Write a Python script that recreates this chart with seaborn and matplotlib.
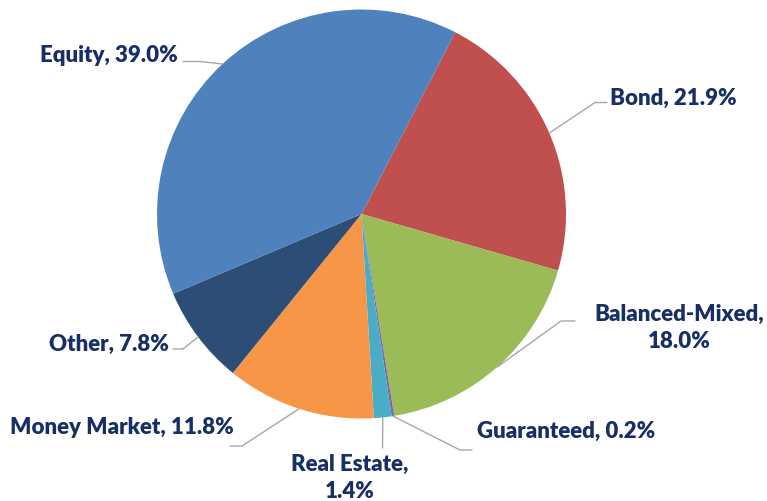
import matplotlib
matplotlib.use("Agg")
import matplotlib.pyplot as plt
import seaborn as sns
import numpy as np

# Fund allocation shares (%), clockwise from the top-right
categories = ["Bond", "Balanced-Mixed", "Guaranteed", "Real Estate",
              "Money Market", "Other", "Equity"]
shares = [21.9, 18.0, 0.2, 1.4, 11.8, 7.8, 39.0]
colors = ["#C0504D", "#9BBB59", "#8064A2", "#4BACC6",
          "#F79646", "#2C4D75", "#4F81BD"]

# label layout in pixels (767x501 canvas, y from top):
# text position, alignment, wrapped?, leader elbow, leader end
layout = {
    "Bond":           dict(xy=(610, 98),  ha="left",   wrap=False, elbow=(595, 102.5), end=(607, 102.5)),
    "Balanced-Mixed": dict(xy=(679, 328), ha="center", wrap=True,  elbow=(561, 321),   end=(575, 321)),
    "Guaranteed":     dict(xy=(477, 431), ha="left",   wrap=False, elbow=(460, 450),   end=(472, 450)),
    "Real Estate":    dict(xy=(350, 478), ha="center", wrap=True,  elbow=(382.5, 448), end=(382.5, 448)),
    "Money Market":   dict(xy=(234, 427), ha="right",  wrap=False, elbow=(242, 446),   end=(230, 446)),
    "Other":          dict(xy=(169, 344), ha="right",  wrap=False, elbow=(183, 349),   end=(173, 349)),
    "Equity":         dict(xy=(178, 55),  ha="right",  wrap=False, elbow=(200, 61.5),  end=(183, 61.5)),
}

W, H = 767, 501
CX, CY, R = 361.5, 214, 204.5


def px(p):
    return ((p[0] - CX) / R, (CY - p[1]) / R)


sns.set_theme(style="white")
plt.rcParams["font.family"] = ["Lato", "DejaVu Sans"]

fig = plt.figure(figsize=(W / 100, H / 100), dpi=100)
ax = fig.add_axes([0, 0, 1, 1])

wedges, _ = ax.pie(shares, colors=colors, startangle=62.7, counterclock=False,
                   radius=1, wedgeprops=dict(linewidth=0))

ax.set_xlim(-CX / R, (W - CX) / R)
ax.set_ylim(-(H - CY) / R, CY / R)
ax.set_aspect("equal")
ax.axis("off")

for w, cat, val in zip(wedges, categories, shares):
    lay = layout[cat]
    mid = np.deg2rad((w.theta1 + w.theta2) / 2)
    anchor = (np.cos(mid), np.sin(mid))
    e = px(lay["elbow"])
    t = px(lay["end"])
    ax.plot([anchor[0], e[0], t[0]], [anchor[1], e[1], t[1]],
            color="#A6A6A6", linewidth=1.0, zorder=3)
    sep = ",\n" if lay["wrap"] else ", "
    label = f"{cat}{sep}{val:.1f}%"
    tx, ty = px(lay["xy"])
    ax.text(tx, ty, label, ha=lay["ha"], va="center", fontsize=16,
            fontweight="heavy", color="#172F66", linespacing=1.32,
            multialignment="center")

fig.savefig("out.png", dpi=100)
